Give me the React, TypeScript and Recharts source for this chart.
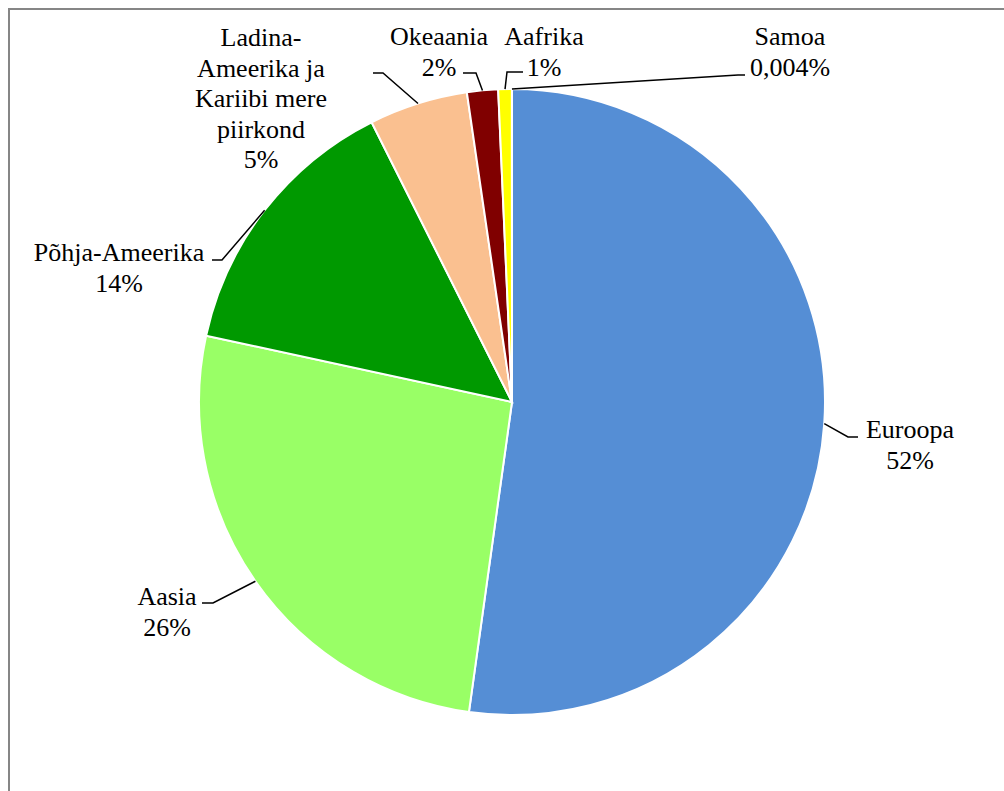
import { PieChart, Pie, Cell } from 'recharts';

// regions in drawing order (clockwise from 12 o'clock)
const regions = [
  'Euroopa',
  'Aasia',
  'Põhja-Ameerika',
  'Ladina-\nAmeerika ja\nKariibi mere\npiirkond',
  'Okeaania',
  'Aafrika',
  'Samoa',
];
const shares = [52.2, 26.2, 14.2, 5.1, 1.6, 0.7, 0.004];
const shareLabels = ['52%', '26%', '14%', '5%', '2%', '1%', '0,004%'];
const colors = ['#558ED5', '#99FF66', '#009900', '#FAC090', '#800000', '#FFFF00', '#4BACC6'];

const data = regions.map((name, i) => ({ name, value: shares[i] }));

// label placement relative to pie centre: elbow, end of leader, text centre, first baseline
const labelLayout = [
  { ex: 336, ey: 35, hx: 346, tx: 398, ty: 36 },
  { ex: -299, ey: 201, hx: -310, tx: -345, ty: 203 },
  { ex: -290, ey: -142, hx: -300, tx: -393, ty: -141 },
  { ex: -129, ey: -329, hx: -139, tx: -251, ty: -356 },
  { ex: -36, ey: -329, hx: -49, tx: -73, ty: -357 },
  { ex: -5, ey: -330, hx: 11, tx: 32, ty: -357 },
  { ex: 226, ey: -327, hx: 233, tx: 278, ty: -357 },
];

const RADIAN = Math.PI / 180;
const LINE_H = 30.5;

const renderLabel = (props: any) => {
  const { cx, cy, midAngle, outerRadius, index } = props;
  const l = labelLayout[index];
  const sx = cx + outerRadius * Math.cos(-midAngle * RADIAN);
  const sy = cy + outerRadius * Math.sin(-midAngle * RADIAN);
  const lines = [...regions[index].split('\n'), shareLabels[index]];
  return (
    <g key={`lbl-${index}`}>
      <polyline
        points={`${sx},${sy} ${cx + l.ex},${cy + l.ey} ${cx + l.hx},${cy + l.ey}`}
        fill="none"
        stroke="#000"
        strokeWidth={1.5}
      />
      {lines.map((t, i) => (
        <text
          key={i}
          x={cx + l.tx}
          y={cy + l.ty + i * LINE_H}
          textAnchor="middle"
          fontFamily="Liberation Serif"
          fontSize={26}
          fill="#000"
        >
          {t}
        </text>
      ))}
    </g>
  );
};

export default function App() {
  return (
    <div
      style={{
        position: 'absolute',
        left: 0,
        top: 0,
        width: 1004,
        height: 791,
        overflow: 'hidden',
        background: '#fff',
      }}
    >
      <div
        style={{
          position: 'absolute',
          left: 8,
          top: 8,
          width: 1100,
          height: 900,
          borderLeft: '2px solid #868686',
          borderTop: '2px solid #868686',
        }}
      />
      <div style={{ position: 'absolute', left: 0, top: 0 }}>
        <PieChart width={1004} height={791} margin={{ top: 0, right: 0, bottom: 0, left: 0 }}>
          <Pie
            data={data}
            dataKey="value"
            nameKey="name"
            cx={512}
            cy={402}
            outerRadius={313}
            startAngle={90}
            endAngle={-270}
            stroke="#fff"
            strokeWidth={2}
            label={renderLabel}
            labelLine={false}
            isAnimationActive={false}
          >
            {data.map((d, i) => (
              <Cell key={d.name} fill={colors[i]} />
            ))}
          </Pie>
        </PieChart>
      </div>
    </div>
  );
}
